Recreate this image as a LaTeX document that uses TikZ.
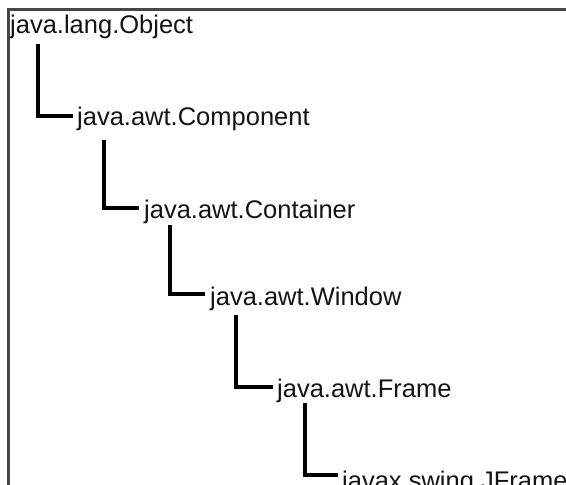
\documentclass[tikz,border=0pt]{standalone}
\usepackage{fontspec}
\setmainfont{Liberation Sans}
\begin{document}
\begin{tikzpicture}[x=1pt,y=1pt,
  cls/.style={anchor=base west,inner sep=0pt,font=\fontsize{25.5}{30}\selectfont,text=black!92},
  conn/.style={draw=black,line width=3.3pt,line join=miter},
  frameline/.style={draw=black!72,line width=2.2pt}]
\useasboundingbox (0,0) rectangle (566,-485);
\clip (0,0) rectangle (566,-485);
\draw[frameline] (8.5,-486) -- (8.5,-9.5) -- (567,-9.5);
\node[cls] (o) at (10,-33) {java.lang.Object};
\node[cls] (c1) at (77,-125) {java.awt.Component};
\node[cls] (c2) at (144,-218) {java.awt.Container};
\node[cls] (c3) at (210,-305) {java.awt.Window};
\node[cls] (c4) at (277,-397) {java.awt.Frame};
\node[cls] (c5) at (342,-489) {javax.swing.JFrame};
\draw[conn] ([xshift=28pt,yshift=-11pt]o.base west) |- ([xshift=-4pt,yshift=9pt]c1.base west);
\draw[conn] ([xshift=27pt,yshift=-15pt]c1.base west) |- ([xshift=-5pt,yshift=10pt]c2.base west);
\draw[conn] ([xshift=26pt,yshift=-7pt]c2.base west) |- ([xshift=-5pt,yshift=11pt]c3.base west);
\draw[conn] ([xshift=26pt,yshift=-10pt]c3.base west) |- ([xshift=-4pt,yshift=10pt]c4.base west);
\draw[conn] ([xshift=28pt,yshift=-6pt]c4.base west) |- ([xshift=-4pt,yshift=14pt]c5.base west);
\end{tikzpicture}
\end{document}
